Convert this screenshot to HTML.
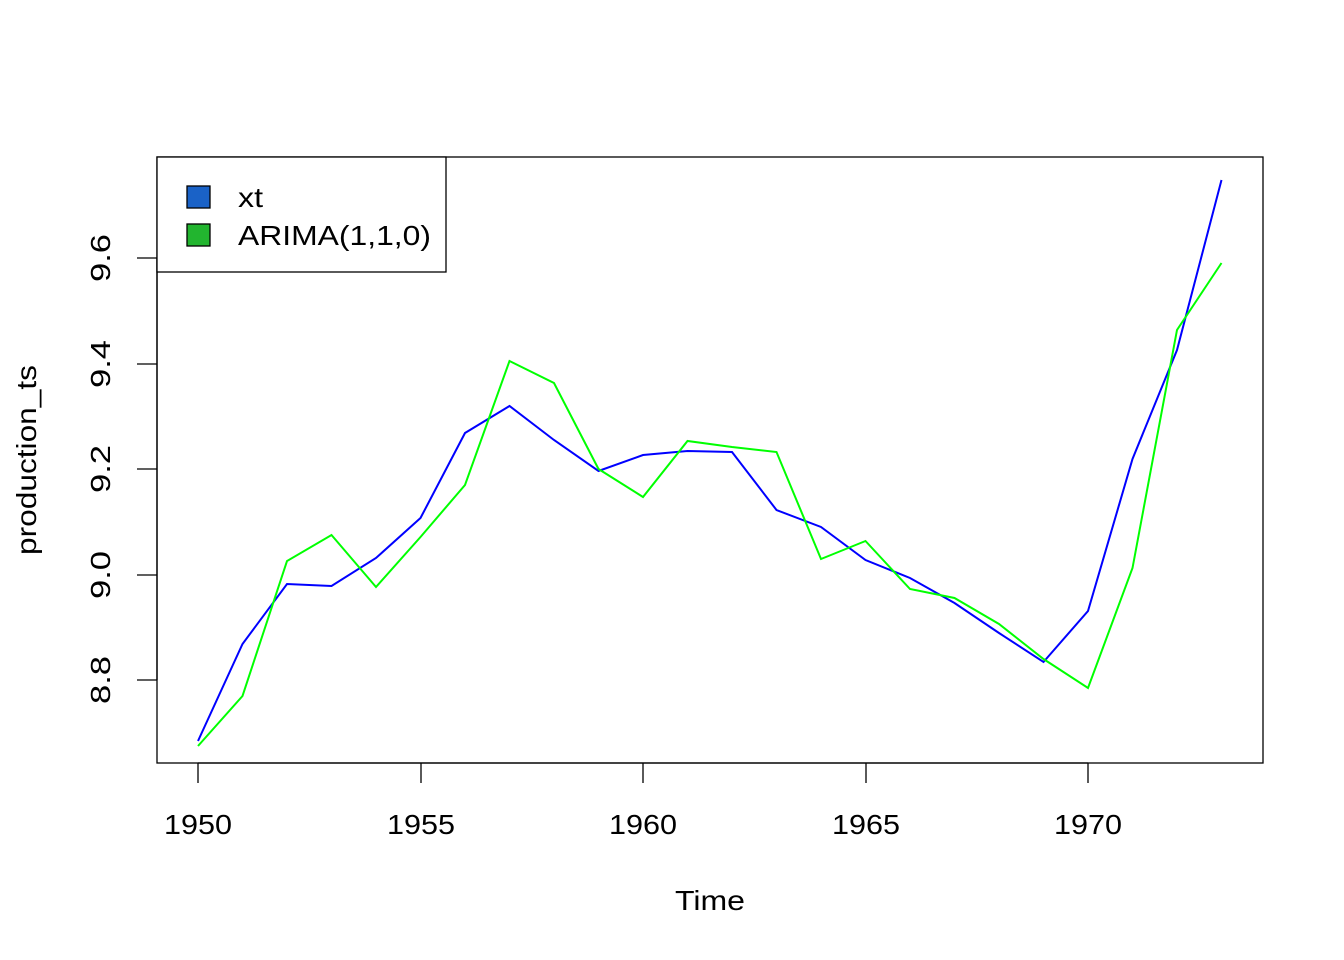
<!DOCTYPE html>
<html><head><style>body{margin:0;background:#fff}svg{display:block}</style></head>
<body>
<svg width="1344" height="960" xmlns="http://www.w3.org/2000/svg" font-family="Liberation Sans, Arial, sans-serif">
<rect width="1344" height="960" fill="#fff"/>
<rect x="157" y="157" width="1106" height="606" fill="none" stroke="#000" stroke-width="1.3"/>
<g stroke="#000" stroke-width="1.3">
<line x1="198" y1="763" x2="1088" y2="763"/>
<line x1="198" y1="763" x2="198" y2="783"/>
<line x1="421" y1="763" x2="421" y2="783"/>
<line x1="643" y1="763" x2="643" y2="783"/>
<line x1="866" y1="763" x2="866" y2="783"/>
<line x1="1088" y1="763" x2="1088" y2="783"/>
<line x1="157" y1="680" x2="157" y2="258"/>
<line x1="137" y1="680" x2="157" y2="680"/>
<line x1="137" y1="575" x2="157" y2="575"/>
<line x1="137" y1="469" x2="157" y2="469"/>
<line x1="137" y1="364" x2="157" y2="364"/>
<line x1="137" y1="258" x2="157" y2="258"/>
</g>
<g font-size="28" text-anchor="middle" fill="#000" lengthAdjust="spacingAndGlyphs">
<text x="198" y="834" textLength="68" lengthAdjust="spacingAndGlyphs">1950</text>
<text x="421" y="834" textLength="68" lengthAdjust="spacingAndGlyphs">1955</text>
<text x="643" y="834" textLength="68" lengthAdjust="spacingAndGlyphs">1960</text>
<text x="866" y="834" textLength="68" lengthAdjust="spacingAndGlyphs">1965</text>
<text x="1088" y="834" textLength="68" lengthAdjust="spacingAndGlyphs">1970</text>
<text x="710" y="910" textLength="70" lengthAdjust="spacingAndGlyphs">Time</text>
<text transform="translate(110,680) rotate(-90)" textLength="48" lengthAdjust="spacingAndGlyphs">8.8</text>
<text transform="translate(110,575) rotate(-90)" textLength="48" lengthAdjust="spacingAndGlyphs">9.0</text>
<text transform="translate(110,469) rotate(-90)" textLength="48" lengthAdjust="spacingAndGlyphs">9.2</text>
<text transform="translate(110,364) rotate(-90)" textLength="48" lengthAdjust="spacingAndGlyphs">9.4</text>
<text transform="translate(110,258) rotate(-90)" textLength="48" lengthAdjust="spacingAndGlyphs">9.6</text>
<text transform="translate(36,460) rotate(-90)" textLength="190" lengthAdjust="spacingAndGlyphs">production_ts</text>
</g>
<polyline fill="none" stroke="#0000ff" stroke-width="2" points="198,741 242.5,644 287,584 331.5,586 376,558 420.5,518 465,433 509.5,406 554,440 598.5,471 643,455 687.5,451 732,452 776.5,510 821,527 865.5,560 910,578 954.5,603 999,633 1043.5,662 1088,611 1132.5,459 1177,350 1221.5,180"/>
<polyline fill="none" stroke="#00ff00" stroke-width="2" points="198,746 242.5,696 287,561 331.5,535 376,587 420.5,537 465,485 509.5,361 554,383 598.5,469 643,497 687.5,441 732,447 776.5,452 821,559 865.5,541 910,589 954.5,598 999,624 1043.5,659 1088,688 1132.5,568 1177,330 1221.5,263"/>
<rect x="157" y="157" width="289" height="115" fill="#fff" stroke="#000" stroke-width="1.3"/>
<rect x="187" y="186" width="23" height="22" fill="#1a62c7" stroke="#000" stroke-width="1.3"/>
<rect x="187" y="224" width="23" height="22" fill="#22b52f" stroke="#000" stroke-width="1.3"/>
<g font-size="28" fill="#000">
<text x="238" y="207" textLength="25" lengthAdjust="spacingAndGlyphs">xt</text>
<text x="238" y="245" textLength="193" lengthAdjust="spacingAndGlyphs">ARIMA(1,1,0)</text>
</g>
</svg>
</body></html>
